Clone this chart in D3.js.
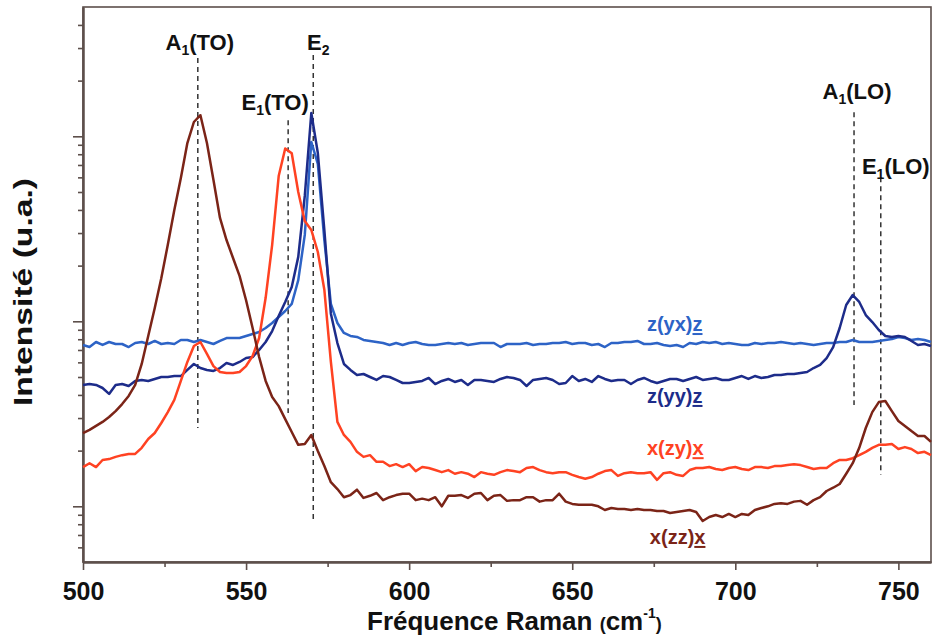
<!DOCTYPE html>
<html><head><meta charset="utf-8">
<script src="https://cdn.jsdelivr.net/npm/d3@7"></script>
<style>
html,body{margin:0;padding:0;background:#fff;}
svg{display:block;font-family:"Liberation Sans",Arial,Helvetica,sans-serif;}
</style></head><body>
<svg id="chart" width="932" height="639"></svg>
<script>
// ---------- DATA ----------
const wavenumbers = [500,502,504,506,508,510,512,514,516,518,
520,522,524,526,528,530,532,534,536,538,
540,542,544,546,548,550,552,554,556,558,
560,562,564,566,568,570,572,574,576,578,
580,582,584,586,588,590,592,594,596,598,
600,602,604,606,608,610,612,614,616,618,
620,622,624,626,628,630,632,634,636,638,
640,642,644,646,648,650,652,654,656,658,
660,662,664,666,668,670,672,674,676,678,
680,682,684,686,688,690,692,694,696,698,
700,702,704,706,708,710,712,714,716,718,
720,722,724,726,728,730,732,734,736,738,
740,742,744,746,748,750,752,754,756,758,
760];

const zyx = [7.45,7.26,7.73,7.45,7.73,7.54,7.54,7.26,7.63,7.73,
7.54,7.83,7.54,7.63,7.54,7.93,7.93,7.73,7.93,7.73,
7.54,7.83,8.12,8.12,8.12,8.33,8.54,8.75,9.20,9.79,
10.55,11.37,12.41,16.7,29.3,93.2,71.0,27.5,12.4,9.79,
8.65,8.33,8.23,7.93,7.83,7.73,7.63,7.45,7.63,7.45,
7.63,7.73,7.54,7.45,7.45,7.54,7.63,7.54,7.63,7.45,
7.54,7.63,7.63,7.63,7.26,7.54,7.54,7.54,7.63,7.45,
7.54,7.54,7.63,7.63,7.73,7.54,7.63,7.63,7.45,7.54,
7.26,7.63,7.63,7.73,7.73,7.83,7.54,7.54,7.63,7.45,
7.35,7.45,7.26,7.63,7.54,7.73,7.63,7.73,7.54,7.63,
7.54,7.45,7.45,7.63,7.54,7.63,7.63,7.73,7.63,7.54,
7.63,7.54,7.45,7.54,7.63,7.63,7.73,7.73,7.93,7.73,
7.73,7.73,7.83,7.93,8.02,8.23,8.12,7.93,8.02,7.93,
7.73];

const zyy = [4.53,4.58,4.53,4.36,4.05,4.53,4.58,4.47,4.76,4.82,
4.76,4.88,5.00,5.00,5.06,5.06,5.46,5.88,5.59,5.46,
5.39,5.59,5.95,5.81,6.03,6.33,6.41,7.00,7.73,8.86,
10.68,12.72,15.32,22.3,47.6,133.6,81.2,31.1,11.0,7.63,
5.88,5.46,5.13,5.19,5.00,4.82,5.06,5.00,4.82,4.64,
4.64,4.70,4.76,4.94,4.58,4.76,4.88,4.70,4.82,4.53,
4.82,4.82,4.76,4.70,4.88,5.00,4.94,4.82,4.47,4.82,
4.88,4.94,4.82,4.58,4.64,5.06,4.76,4.88,4.70,5.06,
4.88,4.76,4.82,4.82,4.58,4.82,4.94,4.76,4.64,4.76,
4.88,4.88,4.76,4.88,5.00,4.82,4.88,4.94,4.82,4.82,
4.94,5.06,4.88,5.06,4.94,5.00,5.13,5.13,5.19,5.19,
5.25,5.32,5.59,5.81,6.33,7.26,9.20,12.25,13.87,12.72,
10.81,9.91,8.97,8.33,8.23,8.33,8.23,7.83,7.45,7.54,
7.35];

const xzy = [1.63,1.71,1.63,1.78,1.80,1.85,1.89,1.92,1.92,2.07,
2.31,2.49,2.82,3.23,3.76,4.76,6.03,7.35,7.73,6.66,
5.73,5.32,5.25,5.25,5.32,5.73,6.49,8.12,13.4,25.9,
61.0,86.0,81.0,50.0,34.8,31.2,23.7,14.8,6.03,2.86,
2.43,2.23,1.97,1.85,1.89,1.74,1.74,1.65,1.69,1.63,
1.69,1.55,1.63,1.61,1.57,1.53,1.57,1.50,1.53,1.50,
1.44,1.53,1.50,1.48,1.53,1.57,1.55,1.53,1.61,1.63,
1.57,1.53,1.51,1.53,1.53,1.48,1.44,1.41,1.44,1.50,
1.55,1.57,1.46,1.51,1.53,1.51,1.51,1.53,1.39,1.51,
1.53,1.48,1.46,1.57,1.61,1.61,1.63,1.59,1.57,1.61,
1.63,1.59,1.57,1.63,1.63,1.61,1.65,1.65,1.67,1.69,
1.67,1.63,1.59,1.61,1.61,1.71,1.78,1.78,1.82,1.89,
1.97,2.07,2.15,2.15,2.17,2.04,2.09,2.04,1.94,1.97,
1.89];

const xzz = [2.49,2.59,2.72,2.86,3.04,3.27,3.57,3.95,4.53,5.88,
8.33,11.8,17.1,25.9,40.0,59.5,92.0,119.5,130,92.0,
58.0,36.2,27.5,22.0,17.6,13.0,9.2,6.41,4.76,3.90,
3.48,2.96,2.52,2.15,2.17,2.43,1.99,1.65,1.35,1.24,
1.12,1.15,1.23,1.11,1.14,1.18,1.08,1.12,1.15,1.17,
1.17,1.08,1.10,1.08,1.12,1.00,1.14,1.14,1.15,1.11,
1.17,1.18,1.08,1.14,1.15,1.07,1.08,1.08,1.12,1.12,
1.06,1.08,1.08,1.17,1.06,1.03,1.02,1.02,1.02,1.00,
0.955,0.979,0.967,0.967,0.955,0.967,0.955,0.955,0.943,0.943,
0.92,0.932,0.943,0.955,0.932,0.833,0.875,0.897,0.875,0.909,
0.875,0.909,0.897,0.955,0.979,1.00,1.03,1.04,1.03,1.06,
1.07,1.02,1.08,1.12,1.21,1.26,1.32,1.50,1.71,2.07,
2.65,3.23,3.66,3.71,3.27,2.89,2.72,2.55,2.40,2.40,
2.23];

const seriesNames = ["z(yx)z", "z(yy)z", "x(zy)x", "x(zz)x"];
const seriesValues = [zyx, zyy, xzy, xzz];
const seriesLabelAt = [[672.9, 8.86], [672.9, 3.62], [672.9, 1.89], [673.8, 0.626]];

const xTicks = [500, 550, 600, 650, 700, 750];
const xMinorTicks = [525, 575, 625, 675, 725];
const yMajorTicks = [1, 10, 100];
const yMinorTicks = [0.6,0.7,0.8,0.9,2,3,4,5,6,7,8,9,20,30,40,50,60,70,80,90,200,300,400];

const modeLetter = ["A", "E", "E", "A", "E"];
const modeSub = ["1", "1", "2", "1", "1"];
const modeRest = ["(TO)", "(TO)", "", "(LO)", "(LO)"];
const modePositions = [535.2, 562.9, 570.6, 736.4, 744.6];
const modeLineTop = [265, 122, 275, 135, 60];
const modeLineBottom = [2.65, 3.19, 0.843, 3.53, 1.48];

// ---------- STYLE / LAYOUT ----------
const colors = ["#2d63c6", "#1d2c8a", "#ff4222", "#7b2417"];
const labelDx = [2, -13, 5, 3, 15];
const labelDy = [-8, -10, -5, -13, -3];
const axisColor = "#5d4f4b";
const W = 932, H = 639;
const m = {left: 83, right: 1, top: 7, bottom: 77};

const svg = d3.select("#chart");
svg.append("rect").attr("width", W).attr("height", H).attr("fill", "#fff");

const x = d3.scaleLinear().domain([500, 760]).range([m.left, W - m.right]);
const y = d3.scaleLog().domain([0.5, 500]).range([H - m.bottom, m.top]);

// frame
svg.append("rect")
  .attr("x", x(500)).attr("y", y(500))
  .attr("width", x(760) - x(500)).attr("height", y(0.5) - y(500))
  .attr("fill", "none").attr("stroke", axisColor).attr("stroke-width", 1.6);

// axes
const gx = svg.append("g").attr("transform", `translate(0,${y(0.5)})`)
  .call(d3.axisBottom(x).tickValues(xTicks).tickSize(8).tickSizeOuter(0).tickPadding(12).tickFormat(d3.format("d")));
const gxm = svg.append("g").attr("transform", `translate(0,${y(0.5)})`)
  .call(d3.axisBottom(x).tickValues(xMinorTicks).tickSize(5).tickSizeOuter(0).tickFormat(""));
const gy = svg.append("g").attr("transform", `translate(${x(500)},0)`)
  .call(d3.axisLeft(y).tickValues(yMajorTicks).tickSize(10).tickSizeOuter(0).tickFormat(""));
const gym = svg.append("g").attr("transform", `translate(${x(500)},0)`)
  .call(d3.axisLeft(y).tickValues(yMinorTicks).tickSize(5).tickSizeOuter(0).tickFormat(""));
[gx, gxm, gy, gym].forEach(g => {
  g.select(".domain").attr("stroke", axisColor).attr("stroke-width", 2);
  g.selectAll(".tick line").attr("stroke", axisColor).attr("stroke-width", 1.6);
});
gx.selectAll(".tick text").attr("fill", "#111").style("font-size", "25px").style("font-weight", "bold")
  .style("font-family", '"Liberation Sans",Arial,sans-serif');

// dashed mode lines
modePositions.forEach((p, i) => {
  svg.append("line")
    .attr("x1", x(p)).attr("x2", x(p))
    .attr("y1", y(modeLineTop[i])).attr("y2", y(modeLineBottom[i]))
    .attr("stroke", "#333").attr("stroke-width", 1.5).attr("stroke-dasharray", "5,4");
});

// curves
const line = d3.line().x((d, i) => x(wavenumbers[i])).y(d => y(d));
seriesValues.forEach((vals, s) => {
  svg.append("path").datum(vals)
    .attr("d", line).attr("fill", "none")
    .attr("stroke", colors[s]).attr("stroke-width", 2.5).attr("stroke-linejoin", "round");
});

// mode labels
modePositions.forEach((p, i) => {
  const t = svg.append("text")
    .attr("x", x(p) + labelDx[i]).attr("y", y(modeLineTop[i]) + labelDy[i])
    .attr("text-anchor", "middle").attr("fill", "#111")
    .style("font-size", "22px").style("font-weight", "bold");
  t.append("tspan").text(modeLetter[i]);
  t.append("tspan").text(modeSub[i]).style("font-size", "14px").attr("dy", 5);
  if (modeRest[i]) t.append("tspan").text(modeRest[i]).attr("dy", -5);
});

// series labels
seriesNames.forEach((name, s) => {
  const [lx, ly] = seriesLabelAt[s];
  const t = svg.append("text")
    .attr("x", x(lx)).attr("y", y(ly)).attr("fill", colors[s])
    .style("font-size", "20px").style("font-weight", "bold").text(name);
  const n = t.node();
  const k = name.length - 1;
  const a = n.getStartPositionOfChar(k).x, b = n.getEndPositionOfChar(k).x;
  svg.append("line").attr("x1", a).attr("x2", b)
    .attr("y1", y(ly) + 3).attr("y2", y(ly) + 3)
    .attr("stroke", colors[s]).attr("stroke-width", 2);
});

// axis titles
const xt = svg.append("text").attr("x", 367).attr("y", 630).attr("fill", "#111")
  .style("font-size", "26px").style("font-weight", "bold");
xt.append("tspan").text("Fréquence Raman ");
xt.append("tspan").text("(").style("font-size", "18px");
xt.append("tspan").text("cm");
xt.append("tspan").text("-1").style("font-size", "14px").attr("dy", -12);
xt.append("tspan").text(")").style("font-size", "18px").attr("dy", 12);

svg.append("text").attr("transform", "translate(32,292) rotate(-90)")
  .attr("text-anchor", "middle").attr("fill", "#111")
  .attr("textLength", 228).attr("lengthAdjust", "spacingAndGlyphs")
  .style("font-size", "26px").style("font-weight", "bold").text("Intensité (u.a.)");
</script>
</body></html>
